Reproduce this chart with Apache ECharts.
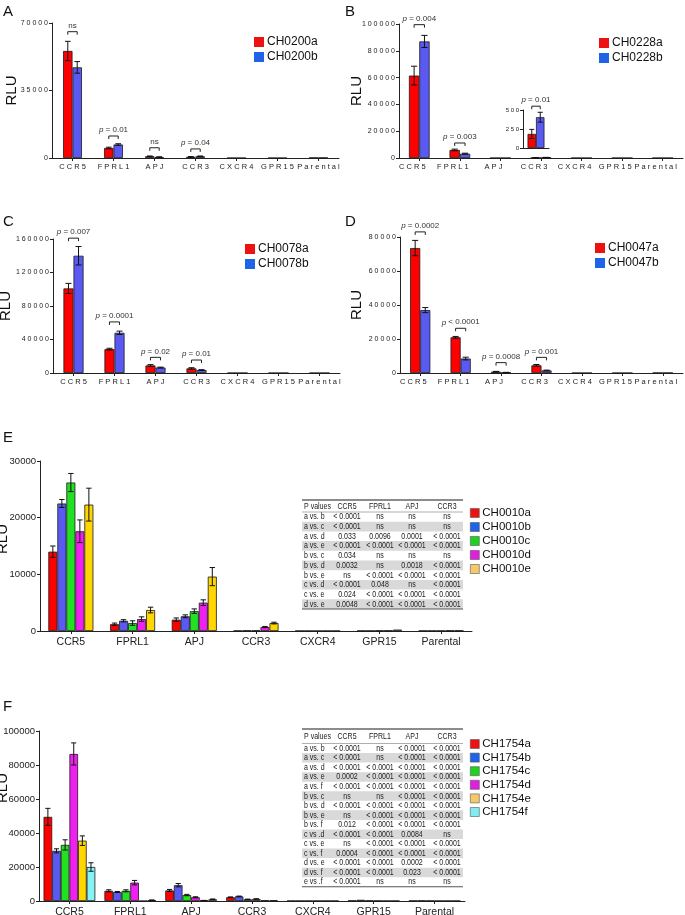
<!DOCTYPE html>
<html>
<head>
<meta charset="utf-8">
<script src="https://cdn.jsdelivr.net/npm/echarts@6/dist/echarts.min.js"></script>
<style>
  html, body { margin: 0; padding: 0; background: #fff; }
  #main { width: 685px; height: 915px; }
</style>
</head>
<body>
<div id="main"></div>
<script>
const ARIAL = '"Liberation Sans", Arial, sans-serif';

const receptors = ['CCR5', 'FPRL1', 'APJ', 'CCR3', 'CXCR4', 'GPR15', 'Parental'];

// A - CH0200
const chA_a = [55500, 5200, 900, 600, 0, 0, 150];
const chA_aErr = [5000, 400, 150, 150, 0, 0, 0];
const chA_b = [47000, 7000, 500, 900, 0, 0, 150];
const chA_bErr = [3000, 400, 100, 150, 0, 0, 0];
const chA_p = [[0, 65500, 'ns'], [1, 11400, 'p = 0.01'], [2, 5300, 'ns'], [3, 4700, 'p = 0.04']];

// B - CH0228
const chB_a = [61500, 6000, 0, 185, 0, 0, 0];
const chB_aErr = [7000, 600, 0, 60, 0, 0, 0];
const chB_b = [87000, 3200, 0, 405, 0, 0, 0];
const chB_bErr = [4500, 400, 0, 65, 0, 0, 0];
const chB_p = [[0, 99500, 'p = 0.004'], [1, 11200, 'p = 0.003']];
const chB_inset = ['CCR3'];
const chB_insetA = [185];
const chB_insetAErr = [60];
const chB_insetB = [405];
const chB_insetBErr = [65];
const chB_insetP = [[0, 550, 'p = 0.01']];

// C - CH0078
const chC_a = [101000, 28500, 9000, 5500, 0, 0, 0];
const chC_aErr = [6000, 1000, 1000, 800, 0, 0, 0];
const chC_b = [140000, 48000, 6500, 3500, 0, 0, 0];
const chC_bErr = [11000, 2000, 500, 500, 0, 0, 0];
const chC_p = [[0, 161000, 'p = 0.007'], [1, 61000, 'p = 0.0001'], [2, 18700, 'p = 0.02'], [3, 15500, 'p = 0.01']];

// D - CH0047
const chD_a = [73500, 21000, 800, 4500, 0, 0, 100];
const chD_aErr = [4500, 500, 150, 500, 0, 0, 0];
const chD_b = [37000, 8500, 300, 1500, 0, 0, 100];
const chD_bErr = [1500, 800, 100, 200, 0, 0, 0];
const chD_p = [[0, 83000, 'p = 0.0002'], [1, 26300, 'p < 0.0001'], [2, 6100, 'p = 0.0008'], [3, 9200, 'p = 0.001']];

// E - CH0010 a..e
const chE_a = [14000, 1200, 2000, 50, 30, 50, 50];
const chE_aErr = [1000, 200, 300, 0, 0, 0, 0];
const chE_b = [22500, 1800, 2600, 100, 30, 50, 50];
const chE_bErr = [700, 200, 250, 0, 0, 0, 0];
const chE_c = [26200, 1400, 3500, 100, 30, 100, 50];
const chE_cErr = [1600, 400, 400, 0, 0, 0, 0];
const chE_d = [17600, 2100, 5000, 700, 30, 100, 100];
const chE_dErr = [2000, 400, 500, 100, 0, 0, 0];
const chE_e = [22300, 3700, 9600, 1400, 30, 250, 100];
const chE_eErr = [2900, 500, 1600, 150, 0, 0, 0];

// F - CH1754 a..f
const chF_a = [49500, 6000, 6200, 2200, 100, 300, 200];
const chF_aErr = [5000, 600, 600, 200, 0, 0, 0];
const chF_b = [29500, 5300, 9300, 2700, 100, 700, 300];
const chF_bErr = [1200, 300, 1000, 200, 0, 0, 0];
const chF_c = [33000, 6000, 3500, 1000, 100, 300, 200];
const chF_cErr = [3000, 600, 400, 100, 0, 0, 0];
const chF_d = [86500, 10800, 2200, 1200, 100, 200, 100];
const chF_dErr = [6500, 1300, 300, 100, 0, 0, 0];
const chF_e = [35500, 0, 300, 500, 100, 100, 100];
const chF_eErr = [2800, 0, 50, 0, 0, 0, 0];
const chF_f = [20000, 500, 1000, 500, 100, 100, 100];
const chF_fErr = [2500, 100, 200, 0, 0, 0, 0];

// P value tables
const tblCols = ['P values', 'CCR5', 'FPRL1', 'APJ', 'CCR3'];
const tblE = [
  ['a vs. b', '< 0.0001', 'ns', 'ns', 'ns'],
  ['a vs. c', '< 0.0001', 'ns', 'ns', 'ns'],
  ['a vs. d', '0.033', '0.0096', '0.0001', '< 0.0001'],
  ['a vs. e', '< 0.0001', '< 0.0001', '< 0.0001', '< 0.0001'],
  ['b vs. c', '0.034', 'ns', 'ns', 'ns'],
  ['b vs. d', '0.0032', 'ns', '0.0018', '< 0.0001'],
  ['b vs. e', 'ns', '< 0.0001', '< 0.0001', '< 0.0001'],
  ['c vs. d', '< 0.0001', '0.048', 'ns', '< 0.0001'],
  ['c vs. e', '0.024', '< 0.0001', '< 0.0001', '< 0.0001'],
  ['d vs. e', '0.0048', '< 0.0001', '< 0.0001', '< 0.0001']
];
const tblF = [
  ['a vs. b', '< 0.0001', 'ns', '< 0.0001', '< 0.0001'],
  ['a vs. c', '< 0.0001', 'ns', '< 0.0001', '< 0.0001'],
  ['a vs. d', '< 0.0001', '< 0.0001', '< 0.0001', '< 0.0001'],
  ['a vs. e', '0.0002', '< 0.0001', '< 0.0001', '< 0.0001'],
  ['a vs. f', '< 0.0001', '< 0.0001', '< 0.0001', '< 0.0001'],
  ['b vs. c', 'ns', 'ns', '< 0.0001', '< 0.0001'],
  ['b vs. d', '< 0.0001', '< 0.0001', '< 0.0001', '< 0.0001'],
  ['b vs. e', 'ns', '< 0.0001', '< 0.0001', '< 0.0001'],
  ['b vs. f', '0.012', '< 0.0001', '< 0.0001', '< 0.0001'],
  ['c vs .d', '< 0.0001', '< 0.0001', '0.0084', 'ns'],
  ['c vs. e', 'ns', '< 0.0001', '< 0.0001', '< 0.0001'],
  ['c vs. f', '0.0004', '< 0.0001', '< 0.0001', '< 0.0001'],
  ['d vs. e', '< 0.0001', '< 0.0001', '0.0002', '< 0.0001'],
  ['d vs. f', '< 0.0001', '< 0.0001', '0.023', '< 0.0001'],
  ['e vs .f', '< 0.0001', 'ns', 'ns', 'ns']
];

const barColors = ['#ff0000', '#5a5af2', '#22e022', '#f020f0', '#ffd600', '#86f4f4'];
const legColors = ['#ee1111', '#1f63e8', '#22d022', '#e020e0', '#f5c96a', '#80eeee'];

const spaced = v => String(v).split('').join(' ');
const plain = v => String(v);

const option = {
  animation: false,
  backgroundColor: '#fff',
  grid: [], xAxis: [], yAxis: [], legend: [], series: [], graphic: []
};

function errSeries(gi, vals, errs, k, n, gapFrac) {
  return {
    type: 'custom', xAxisIndex: gi, yAxisIndex: gi, z: 4, silent: true, clip: false,
    data: vals.map((v, j) => [j, v, errs[j] || 0]),
    renderItem: function (params, api) {
      const j = api.value(0), v = api.value(1), e = api.value(2);
      if (!(e > 0)) return null;
      const cw = api.size([1, 0])[0];
      const bw = cw * (1 - gapFrac) / n;
      const x = api.coord([j, 0])[0] - cw * (1 - gapFrac) / 2 + bw * (k + 0.5);
      const yT = api.coord([j, v + e])[1];
      const yB = api.coord([j, Math.max(v - e, 0)])[1];
      const hw = Math.max(2, bw * 0.3);
      const st = { stroke: '#111', lineWidth: 1 };
      return {
        type: 'group', children: [
          { type: 'line', shape: { x1: x, y1: yT, x2: x, y2: yB }, style: st },
          { type: 'line', shape: { x1: x - hw, y1: yT, x2: x + hw, y2: yT }, style: st },
          { type: 'line', shape: { x1: x - hw, y1: yB, x2: x + hw, y2: yB }, style: st }
        ]
      };
    }
  };
}

function bracketSeries(gi, marks, n, gapFrac) {
  return {
    type: 'custom', xAxisIndex: gi, yAxisIndex: gi, z: 6, silent: true, clip: false,
    data: marks.map(m => [m[0], m[1]]),
    renderItem: function (params, api) {
      const label = marks[params.dataIndex][2];
      const cw = api.size([1, 0])[0];
      const bw = cw * (1 - gapFrac) / n;
      const c = api.coord([api.value(0), api.value(1)]);
      const x1 = c[0] - bw / 2, x2 = c[0] + bw / 2, y = c[1];
      const txt = label.charAt(0) === 'p' ? '{i|p}' + label.slice(1) : label;
      return {
        type: 'group', children: [
          { type: 'polyline', shape: { points: [[x1, y + 3], [x1, y], [x2, y], [x2, y + 3]] },
            style: { stroke: '#222', lineWidth: 1, fill: null } },
          { type: 'text', style: {
              text: txt, x: c[0], y: y - 2, textAlign: 'center', textVerticalAlign: 'bottom',
              fontSize: 8, fontFamily: ARIAL, fill: '#333',
              rich: { i: { fontStyle: 'italic', fontSize: 8, fontFamily: ARIAL, fill: '#333' } }
            } }
        ]
      };
    }
  };
}

function addPanel(p) {
  const gi = option.grid.length;
  const small = p.small;
  option.grid.push(Object.assign({ containLabel: false, outerBoundsMode: 'none' }, p.grid));
  option.xAxis.push({
    type: 'category', gridIndex: gi, data: p.cats,
    axisLine: { lineStyle: { color: '#222', width: 1 } },
    axisTick: { show: p.xTicks !== false, alignWithLabel: true, length: 3, lineStyle: { color: '#222' } },
    axisLabel: {
      show: p.xLabels !== false, interval: 0, color: '#222', margin: small ? 5 : 6,
      fontSize: small ? 7.5 : 10.5, fontFamily: ARIAL,
      formatter: small ? spaced : plain, padding: p.labelPad || 0
    }
  });
  option.yAxis.push({
    type: 'value', gridIndex: gi, min: 0, max: p.max, interval: p.interval,
    axisLine: { show: true, lineStyle: { color: '#222', width: 1 } },
    axisTick: { show: true, length: 3, lineStyle: { color: '#222' } },
    splitLine: { show: false },
    axisLabel: {
      color: '#222', margin: 4, fontSize: p.yFont || (small ? 7 : 9.5), fontFamily: ARIAL,
      formatter: small ? spaced : plain
    },
    name: p.yName || '', nameLocation: 'middle', nameGap: p.nameGap || 30, nameMoveOverlap: false,
    nameTextStyle: { fontSize: 15, fontFamily: ARIAL, color: '#111', padding: p.namePad || 0 }
  });
  const n = p.vals.length;
  p.vals.forEach((vals, k) => {
    option.series.push({
      type: 'bar', name: p.names[k], xAxisIndex: gi, yAxisIndex: gi, data: vals,
      barGap: '0%', barCategoryGap: Math.round(p.gap * 100) + '%',
      itemStyle: { color: barColors[k], borderColor: '#1a1a1a', borderWidth: 0.8 }
    });
    option.series.push(errSeries(gi, vals, p.errs[k], k, n, p.gap));
  });
  if (p.brackets) option.series.push(bracketSeries(gi, p.brackets, n, p.gap));
  if (p.legend) {
    option.legend.push({
      orient: 'vertical', left: p.legend.left, top: p.legend.top, icon: 'rect', padding: 0,
      itemWidth: small ? 10 : 9, itemHeight: small ? 10 : 9, itemGap: p.legend.gap,
      selectedMode: false,
      textStyle: { fontSize: small ? 12 : 11.5, fontFamily: ARIAL, color: '#111', padding: [0, 0, 0, -2] },
      data: p.names.map((nm, k) => ({
        name: nm,
        itemStyle: { color: legColors[k], borderColor: small ? legColors[k] : '#555', borderWidth: small ? 0 : 0.6 }
      }))
    });
  }
}

addPanel({ small: true, cats: receptors, grid: { left: 52, top: 23, width: 287, height: 135 },
  max: 70000, interval: 35000, yName: 'RLU', nameGap: 33, gap: 0.54,
  names: ['CH0200a', 'CH0200b'], vals: [chA_a, chA_b], errs: [chA_aErr, chA_bErr], brackets: chA_p,
  legend: { left: 254, top: 36, gap: 3 } });

addPanel({ small: true, cats: receptors, grid: { left: 399, top: 24, width: 284, height: 134 },
  max: 100000, interval: 20000, yName: 'RLU', nameGap: 35, gap: 0.49, labelPad: [0, 14, 0, 0],
  names: ['CH0228a', 'CH0228b'], vals: [chB_a, chB_b], errs: [chB_aErr, chB_bErr], brackets: chB_p,
  legend: { left: 599, top: 37, gap: 3 } });

addPanel({ small: true, cats: chB_inset, grid: { left: 523, top: 110, width: 26, height: 38 },
  max: 500, interval: 250, yFont: 6, gap: 0.35, xLabels: false, xTicks: false,
  names: ['CH0228a', 'CH0228b'], vals: [chB_insetA, chB_insetB], errs: [chB_insetAErr, chB_insetBErr],
  brackets: chB_insetP });

addPanel({ small: true, cats: receptors, grid: { left: 53, top: 239, width: 287, height: 134 },
  max: 160000, interval: 40000, yName: 'RLU', nameGap: 40, gap: 0.51,
  names: ['CH0078a', 'CH0078b'], vals: [chC_a, chC_b], errs: [chC_aErr, chC_bErr], brackets: chC_p,
  legend: { left: 245, top: 243, gap: 3 } });

addPanel({ small: true, cats: receptors, grid: { left: 400, top: 237, width: 283, height: 136 },
  max: 80000, interval: 20000, yName: 'RLU', nameGap: 36, gap: 0.5, labelPad: [0, 14, 0, 0],
  names: ['CH0047a', 'CH0047b'], vals: [chD_a, chD_b], errs: [chD_aErr, chD_bErr], brackets: chD_p,
  legend: { left: 595, top: 242, gap: 3 } });

addPanel({ small: false, cats: receptors, grid: { left: 40, top: 461, width: 432, height: 170 },
  max: 30000, interval: 10000, yName: 'RLU', nameGap: 30, namePad: [0, 0, 0, 14], gap: 0.27,
  names: ['CH0010a', 'CH0010b', 'CH0010c', 'CH0010d', 'CH0010e'],
  vals: [chE_a, chE_b, chE_c, chE_d, chE_e], errs: [chE_aErr, chE_bErr, chE_cErr, chE_dErr, chE_eErr],
  legend: { left: 470, top: 507, gap: 2 } });

addPanel({ small: false, cats: receptors, grid: { left: 39, top: 731, width: 426, height: 170 },
  max: 100000, interval: 20000, yName: 'RLU', nameGap: 29, namePad: [0, 0, 0, 56], gap: 0.15,
  names: ['CH1754a', 'CH1754b', 'CH1754c', 'CH1754d', 'CH1754e', 'CH1754f'],
  vals: [chF_a, chF_b, chF_c, chF_d, chF_e, chF_f],
  errs: [chF_aErr, chF_bErr, chF_cErr, chF_dErr, chF_eErr, chF_fErr],
  legend: { left: 470, top: 738, gap: 1.6 } });

// panel letters
[['A', 3, 4], ['B', 345, 4], ['C', 3, 214], ['D', 345, 214], ['E', 3, 430], ['F', 3, 699]].forEach(l => {
  option.graphic.push({ type: 'text', x: l[1], y: l[2], silent: true,
    style: { text: l[0], fontSize: 15, fontFamily: ARIAL, fill: '#111' } });
});

function tableGraphic(rows, left, top, headH, rowH) {
  const w = 161;
  const colX = [2, 45, 78, 110, 145];
  const els = [];
  const y0 = top + headH;
  rows.forEach((r, i) => {
    if (i % 2 === 1) els.push({ type: 'rect', shape: { x: left, y: y0 + i * rowH, width: w, height: rowH },
      style: { fill: '#d9d9d9' }, silent: true });
  });
  els.push({ type: 'line', shape: { x1: left, y1: top, x2: left + w, y2: top }, style: { stroke: '#8c8c8c', lineWidth: 2 }, silent: true });
  els.push({ type: 'line', shape: { x1: left, y1: y0, x2: left + w, y2: y0 }, style: { stroke: '#9a9a9a', lineWidth: 0.8 }, silent: true });
  const yEnd = y0 + rows.length * rowH;
  els.push({ type: 'line', shape: { x1: left, y1: yEnd, x2: left + w, y2: yEnd }, style: { stroke: '#555', lineWidth: 1 }, silent: true });
  // condensed look: the original table type is a narrow face
  const cell = (t, c, y) => ({
    type: 'text', x: left + colX[c], y: y, scaleX: 0.78, silent: true,
    style: { text: t, textAlign: c === 0 ? 'left' : 'center', textVerticalAlign: 'middle',
      fontSize: 9, fontFamily: ARIAL, fill: '#222' }
  });
  tblCols.forEach((h, c) => els.push(cell(h, c, top + headH / 2 + 0.5)));
  rows.forEach((r, i) => r.forEach((t, c) => els.push(cell(t, c, y0 + (i + 0.5) * rowH))));
  return els;
}

option.graphic.push(...tableGraphic(tblE, 302, 500, 12, 9.7));
option.graphic.push(...tableGraphic(tblF, 302, 729, 14.5, 9.55));

const chart = echarts.init(document.getElementById('main'), null, { renderer: 'canvas' });
chart.setOption(option);
</script>
</body>
</html>
